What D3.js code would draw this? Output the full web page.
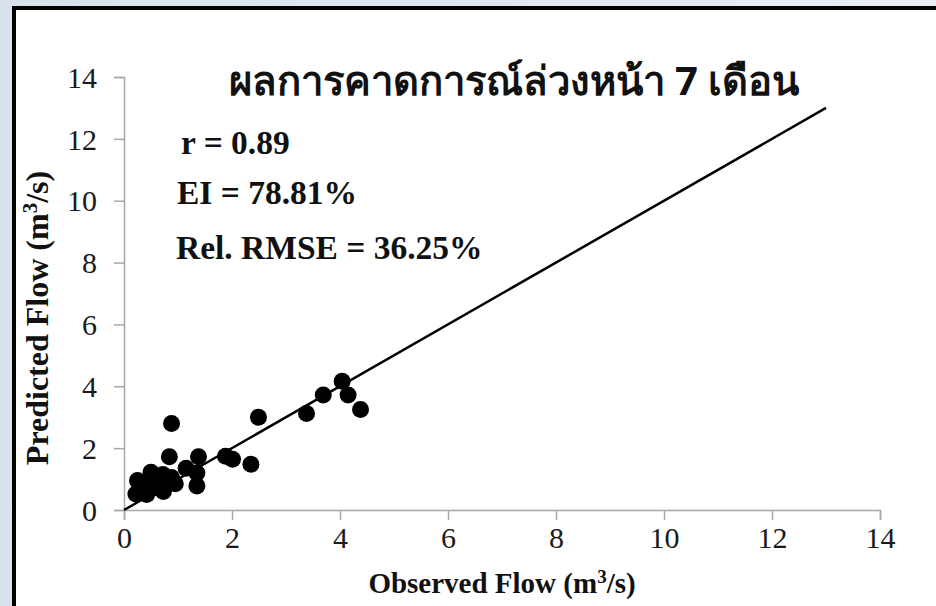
<!DOCTYPE html>
<html>
<head>
<meta charset="utf-8">
<script src="https://cdn.jsdelivr.net/npm/d3@7"></script>
<style>
  html, body { margin: 0; padding: 0; background: #e3eaf2; }
  svg { display: block; }
  .tick text { font-family: 'Liberation Serif', 'Times New Roman', serif; }
</style>
</head>
<body>
<svg id="chart" width="936" height="606"></svg>
<script>
// Observed vs predicted monthly flow, 7-month lead forecast
const observed  = [0.22, 0.25, 0.33, 0.42, 0.45, 0.50, 0.57, 0.62, 0.72, 0.73, 0.80, 0.88, 0.95, 0.84, 0.88, 1.15, 1.35, 1.35, 1.38, 1.88, 2.01, 2.35, 2.49, 3.38, 3.69, 4.04, 4.15, 4.38];
const predicted = [0.52, 0.95, 0.62, 0.50, 0.80, 1.22, 0.72, 0.95, 1.15, 0.60, 0.88, 1.05, 0.85, 1.72, 2.80, 1.35, 1.20, 0.78, 1.72, 1.74, 1.64, 1.48, 3.00, 3.12, 3.72, 4.16, 3.72, 3.25];
const lineEnds  = [0, 13];          // 1:1 reference line
const xTicks    = [0, 2, 4, 6, 8, 10, 12, 14];
const yTicks    = [0, 2, 4, 6, 8, 10, 12, 14];
const titleText = "ผลการคาดการณ์ล่วงหน้า 7 เดือน";
const stats     = ["r = 0.89", "EI = 78.81%", "Rel. RMSE = 36.25%"];

const svg = d3.select("#chart");
const W = 936, H = 606;

// slide background and framed panel
const grad = svg.append("defs").append("linearGradient")
  .attr("id", "bg").attr("x1", 0).attr("y1", 0).attr("x2", 1).attr("y2", 0);
grad.append("stop").attr("offset", 0).attr("stop-color", "#d9e2ec");
grad.append("stop").attr("offset", 1).attr("stop-color", "#e8eef4");
svg.append("rect").attr("width", W).attr("height", H).attr("fill", "url(#bg)");
svg.append("rect").attr("x", 14).attr("y", 8).attr("width", W).attr("height", H)
  .attr("fill", "#fff").attr("stroke", "#000").attr("stroke-width", 4);

const x = d3.scaleLinear().domain([0, 14]).range([124, 880]);
const y = d3.scaleLinear().domain([0, 14]).range([510, 77]);

const serif = "'Liberation Serif', 'Times New Roman', serif";

// axes
const xAxis = svg.append("g").attr("transform", `translate(0,${y(0)})`)
  .call(d3.axisBottom(x).tickValues(xTicks).tickSize(10).tickPadding(7).tickFormat(d3.format("d")));
const yAxis = svg.append("g").attr("transform", `translate(${x(0)},0)`)
  .call(d3.axisLeft(y).tickValues(yTicks).tickSize(10).tickPadding(17).tickFormat(d3.format("d")));
[xAxis, yAxis].forEach(g => {
  g.attr("font-family", serif).attr("font-size", 30);
  g.select(".domain").attr("stroke", "#a8a8a8").attr("stroke-width", 1.5);
  g.selectAll(".tick line").attr("stroke", "#a8a8a8").attr("stroke-width", 1.5);
  g.selectAll(".tick text").attr("fill", "#1a1a1a");
});
yAxis.selectAll(".tick text").attr("dy", "0.34em");

// 1:1 line
svg.append("line")
  .attr("x1", x(lineEnds[0])).attr("y1", y(lineEnds[0]))
  .attr("x2", x(lineEnds[1])).attr("y2", y(lineEnds[1]))
  .attr("stroke", "#000").attr("stroke-width", 2.5);

// observations
svg.append("g").selectAll("circle")
  .data(observed.map((o, i) => [o, predicted[i]]))
  .join("circle")
  .attr("cx", d => x(d[0])).attr("cy", d => y(d[1])).attr("r", 8.5)
  .attr("fill", "#000");

// title
svg.append("text").attr("x", 514).attr("y", 95).attr("text-anchor", "middle")
  .style("font-family", "'Noto Sans', 'DejaVu Sans', sans-serif").style("font-weight", "bold")
  .style("font-size", "40px").attr("fill", "#111").text(titleText);

// statistics block
const statX = [181, 177, 176], statY = [154, 204, 259];
stats.forEach((s, i) => {
  svg.append("text").attr("x", statX[i]).attr("y", statY[i])
    .style("font-family", serif).style("font-weight", "bold").style("font-size", "33.5px")
    .attr("fill", "#111").text(s);
});

// axis titles with superscript
const xt = svg.append("text").attr("x", 502).attr("y", 593).attr("text-anchor", "middle")
  .style("font-family", serif).style("font-weight", "bold").style("font-size", "29px").attr("fill", "#111");
xt.append("tspan").text("Observed Flow (m");
xt.append("tspan").attr("dy", -10).style("font-size", "19px").text("3");
xt.append("tspan").attr("dy", 10).text("/s)");

const yt = svg.append("text").attr("transform", "translate(48,318) rotate(-90)").attr("text-anchor", "middle")
  .style("font-family", serif).style("font-weight", "bold").style("font-size", "32px").attr("fill", "#111");
yt.append("tspan").text("Predicted Flow (m");
yt.append("tspan").attr("dy", -11).style("font-size", "21px").text("3");
yt.append("tspan").attr("dy", 11).text("/s)");
</script>
</body>
</html>
